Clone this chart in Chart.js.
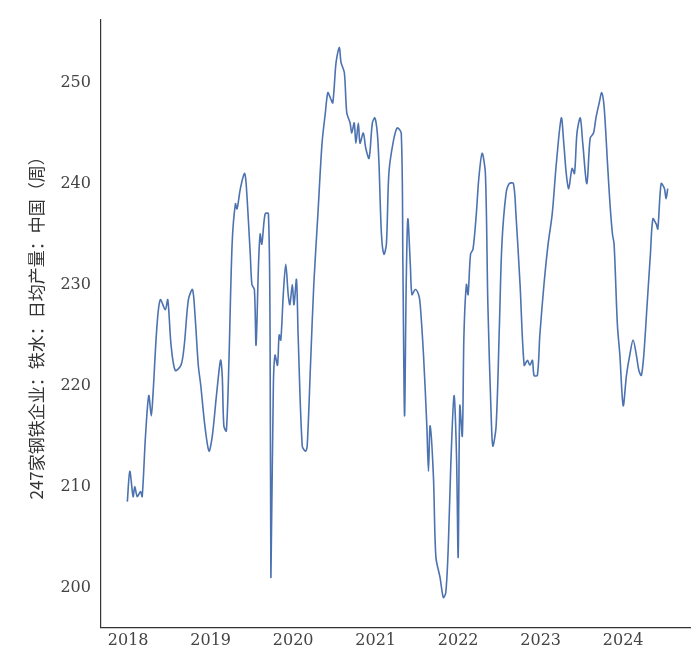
<!DOCTYPE html>
<html>
<head>
<meta charset="utf-8">
<script src="https://cdn.jsdelivr.net/npm/chart.js@4/dist/chart.umd.min.js"></script>
<style>
  html, body { margin: 0; padding: 0; background: #fff; }
  #wrap { width: 698px; height: 661px; }
</style>
</head>
<body>
<div id="wrap"><canvas id="c" width="698" height="661"></canvas></div>
<script>
// 时间（小数年份）与日均产量
const years = [2017.99,2018.02,2018.06,2018.08,2018.11,2018.15,2018.17,2018.21,2018.25,2018.28,2018.30,2018.35,2018.39,2018.45,2018.48,2018.52,2018.57,2018.64,2018.68,2018.73,2018.78,2018.81,2018.85,2018.88,2018.93,2018.98,
  2019.02,2019.07,2019.12,2019.14,2019.16,2019.19,2019.22,2019.26,2019.30,2019.32,2019.36,2019.41,2019.43,2019.48,2019.50,2019.53,2019.55,2019.58,2019.60,2019.62,2019.66,2019.70,2019.72,2019.73,2019.76,2019.78,2019.81,2019.83,2019.85,2019.88,2019.91,2019.94,2019.96,2019.99,
  2020.01,2020.04,2020.06,2020.11,2020.15,2020.17,2020.21,2020.25,2020.30,2020.35,2020.39,2020.42,2020.45,2020.48,2020.52,2020.56,2020.58,2020.62,2020.65,2020.69,2020.71,2020.74,2020.76,2020.79,2020.81,2020.85,2020.88,2020.92,2020.96,2020.99,
  2021.02,2021.04,2021.07,2021.10,2021.13,2021.16,2021.21,2021.26,2021.31,2021.33,2021.35,2021.37,2021.39,2021.42,2021.44,2021.48,2021.52,2021.54,2021.58,2021.62,2021.64,2021.66,2021.70,2021.73,2021.78,2021.82,2021.85,2021.88,2021.91,2021.95,2021.98,
  2022.00,2022.02,2022.05,2022.07,2022.10,2022.12,2022.15,2022.18,2022.22,2022.25,2022.29,2022.33,2022.36,2022.40,2022.42,2022.46,2022.50,2022.53,2022.58,2022.62,2022.67,2022.70,2022.75,2022.80,2022.84,2022.87,2022.90,2022.92,2022.96,2022.99,
  2023.04,2023.09,2023.14,2023.19,2023.25,2023.28,2023.31,2023.34,2023.38,2023.41,2023.44,2023.48,2023.51,2023.56,2023.60,2023.64,2023.67,2023.71,2023.74,2023.77,2023.81,2023.84,2023.87,2023.89,2023.93,2023.96,
  2024.00,2024.04,2024.08,2024.12,2024.16,2024.19,2024.22,2024.25,2024.29,2024.33,2024.36,2024.40,2024.42,2024.46,2024.50,2024.52,2024.54];
const output = [208.5,211.5,209,210,209,209.5,209,215,219,217,219,226,228.5,227.5,228.5,224,221.5,222,224,228.5,229.5,227,222,220,216,213.5,
  215,219,222.5,221,216,215.5,222,234,238,237.5,239.5,241,240,233,230,229.5,224,232,235,234,237,237,225,201,220,223,222,225,224.5,229,232,229,228,230,
  228,230.5,225,214,213.5,214,222,230,237,244,247,249,248.5,248,252,253.5,252,251,247,246,245,246,244,246,244,245,243.5,242.5,246,246.5,
  245,242,235,233,234,241,244,245.5,245,232,217,230,236.5,232,229,229.5,229,228,223,216,211.5,216,211,203,201,199,199.5,204,212,219,
  213,203,218,215,225,230,229,233,233.5,237,240.5,243,241,228,217,214,216,226,234,239,240,240,237,230,222,222.5,222,222.5,221,221,
  225,230,234,237,242,246.5,244,241,239.5,241.5,241,245,246.5,244,240,244.5,245,246.5,248,249,247.5,242,238,235,234,226,223,
  218,221,223,224.5,223,221.5,221,223,228,233,236.5,236,235.5,240,239.5,238.5,239.5];
const yearTicks = [2018, 2019, 2020, 2021, 2022, 2023, 2024];
const yTicks = [200, 210, 220, 230, 240, 250];

const points = years.map((x, i) => ({ x, y: output[i] }));
const font = { family: "'DejaVu Serif', serif", size: 16 };

new Chart(document.getElementById('c').getContext('2d'), {
  type: 'line',
  data: {
    datasets: [{
      data: points,
      borderColor: '#4c72b0',
      borderWidth: 1.6,
      pointRadius: 0,
      tension: 0.3,
      fill: false
    }]
  },
  options: {
    responsive: false,
    animation: false,
    layout: { padding: { top: 20, right: 8, left: 22, bottom: 8 } },
    plugins: { legend: { display: false }, tooltip: { enabled: false } },
    scales: {
      x: {
        type: 'linear',
        min: 2017.67,
        max: 2024.81,
        afterBuildTicks: axis => { axis.ticks = yearTicks.map(v => ({ value: v })); },
        ticks: { color: '#444', font, callback: v => String(v), maxRotation: 0 },
        grid: { display: false, drawTicks: false },
        border: { display: true, color: '#333', width: 1.2 }
      },
      y: {
        min: 196,
        max: 256.2,
        afterBuildTicks: axis => { axis.ticks = yTicks.map(v => ({ value: v })); },
        ticks: { color: '#444', font, padding: 10 },
        grid: { display: false, drawTicks: false },
        border: { display: true, color: '#333', width: 1.2 },
        title: {
          display: true,
          text: '247家钢铁企业：铁水：日均产量：中国（周）',
          color: '#333',
          font: { family: "'Noto Sans CJK SC', 'DejaVu Serif', serif", size: 17 }
        }
      }
    }
  }
});
</script>
</body>
</html>
